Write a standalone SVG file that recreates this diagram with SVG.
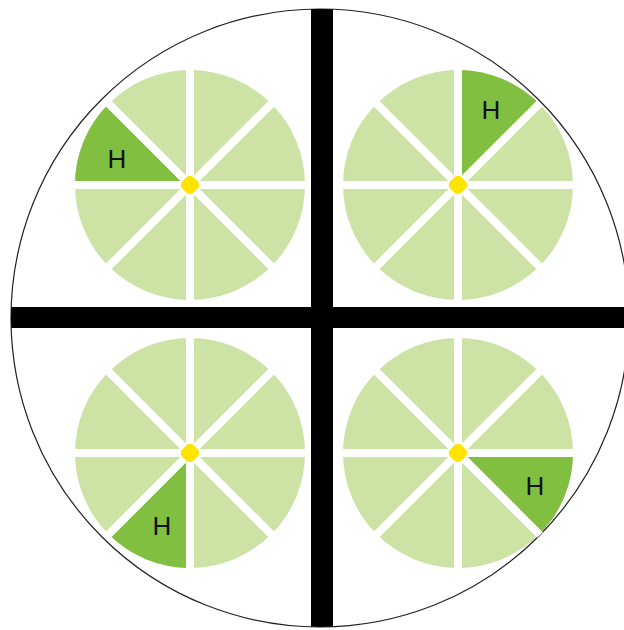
<svg xmlns="http://www.w3.org/2000/svg" width="624" height="630" viewBox="0 0 624 630">
<defs>
<style>
.base{fill:#cde2a5}
.hi{fill:#80bf40}
.gap{stroke:#ffffff;stroke-width:8}
.hub{fill:#ffe400}
.lbl{font-family:"Liberation Sans",Arial,sans-serif;font-size:26px;fill:#111;text-anchor:middle}
.bar{fill:#000}
</style>
<clipPath id="disc"><circle cx="320" cy="318" r="309"/></clipPath>
<g id="spokes">
<line class="gap" x1="-116" y1="0" x2="116" y2="0"/>
<line class="gap" x1="0" y1="-116" x2="0" y2="116"/>
<line class="gap" x1="-82" y1="-82" x2="82" y2="82"/>
<line class="gap" x1="-82" y1="82" x2="82" y2="-82"/>
<rect class="hub" x="-8" y="-8" width="16" height="16" rx="5" transform="rotate(45)"/>
</g>
</defs>
<rect width="624" height="630" fill="#ffffff"/>
<circle cx="320" cy="318" r="309" fill="#ffffff" stroke="#222" stroke-width="1.2"/>
<g id="dividers" clip-path="url(#disc)">
<rect class="bar" x="0" y="307" width="624" height="21"/>
<rect class="bar" x="311" y="0" width="22" height="630"/>
</g>
<g id="pie-top-left">
<circle class="base" cx="190" cy="185" r="115"/>
<path class="hi" d="M190,185 L75,185 A115,115 0 0 1 108.7,103.7 Z"/>
<use href="#spokes" transform="translate(190,185)"/>
<text class="lbl" x="117" y="167.5">H</text>
</g>
<g id="pie-top-right">
<circle class="base" cx="458" cy="185" r="115"/>
<path class="hi" d="M458,185 L458,70 A115,115 0 0 1 539.3,103.7 Z"/>
<use href="#spokes" transform="translate(458,185)"/>
<text class="lbl" x="491" y="118.5">H</text>
</g>
<g id="pie-bottom-left">
<circle class="base" cx="190" cy="453" r="115"/>
<path class="hi" d="M190,453 L190,568 A115,115 0 0 1 108.7,534.3 Z"/>
<use href="#spokes" transform="translate(190,453)"/>
<text class="lbl" x="162" y="534.5">H</text>
</g>
<g id="pie-bottom-right">
<circle class="base" cx="458" cy="453" r="115"/>
<path class="hi" d="M458,453 L573,453 A115,115 0 0 1 539.3,534.3 Z"/>
<use href="#spokes" transform="translate(458,453)"/>
<text class="lbl" x="535" y="494.5">H</text>
</g>
</svg>
